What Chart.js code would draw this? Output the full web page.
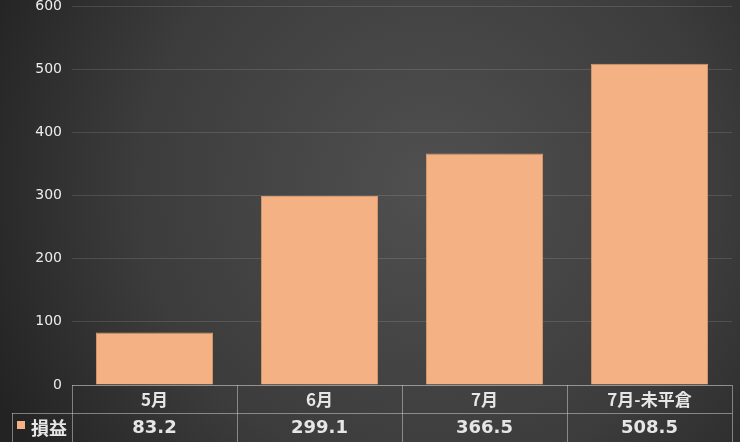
<!DOCTYPE html>
<html><head><meta charset="utf-8">
<script src="https://cdn.jsdelivr.net/npm/chart.js@4/dist/chart.umd.min.js"></script>
<style>html,body{margin:0;padding:0;background:#2a2a2a;}#wrap{width:740px;height:442px;position:relative;}</style>
</head><body><div id="wrap"><canvas id="c"></canvas></div>
<script>
const categories = ['5月', '6月', '7月', '7月-未平倉'];
const seriesName = '損益';
const values = [83.2, 299.1, 366.5, 508.5];
const valueLabels = ['83.2', '299.1', '366.5', '508.5'];
const yTicks = [0, 100, 200, 300, 400, 500, 600];

const barColor = '#F4B183';
const FONT = '"Noto Sans CJK JP", "Noto Sans", sans-serif';
const NUMFONT = '"DejaVu Sans", "Noto Sans CJK JP", sans-serif';

const bgPlugin = {
  id: 'bg',
  beforeDraw(chart) {
    const ctx = chart.ctx, w = chart.width, h = chart.height;
    ctx.save();
    const g = ctx.createRadialGradient(w * 0.58, h * 0.42, 10, w * 0.58, h * 0.42, w * 0.65);
    g.addColorStop(0, '#4f4f4f');
    g.addColorStop(0.6, '#3c3c3c');
    g.addColorStop(1, '#232323');
    ctx.fillStyle = g;
    ctx.fillRect(0, 0, w, h);
    ctx.restore();
  }
};

const tablePlugin = {
  id: 'table',
  afterDraw(chart) {
    const ctx = chart.ctx, xs = chart.scales.x, ca = chart.chartArea;
    const top = ca.bottom, mid = top + 28, bot = chart.height + 2;
    const left = ca.left, right = ca.right, legLeft = 12;
    const n = categories.length;
    const step = (right - left) / n;
    ctx.save();
    ctx.strokeStyle = 'rgba(200,200,200,0.55)';
    ctx.lineWidth = 1;
    ctx.beginPath();
    ctx.moveTo(left, top + 0.5); ctx.lineTo(right, top + 0.5);
    ctx.moveTo(legLeft, mid + 0.5); ctx.lineTo(right, mid + 0.5);
    ctx.moveTo(legLeft, bot - 0.5); ctx.lineTo(right, bot - 0.5);
    ctx.moveTo(legLeft + 0.5, mid); ctx.lineTo(legLeft + 0.5, bot);
    for (let i = 0; i <= n; i++) {
      const x = Math.round(left + step * i) + 0.5;
      ctx.moveTo(x, top); ctx.lineTo(x, bot);
    }
    ctx.stroke();
    ctx.textAlign = 'center';
    ctx.textBaseline = 'middle';
    ctx.fillStyle = '#e6e6e6';
    ctx.font = 'bold 17px ' + FONT;
    categories.forEach((c, i) => {
      ctx.fillText(c, xs.getPixelForValue(i), (top + mid) / 2 + 1);
    });
    ctx.font = 'bold 18px ' + NUMFONT;
    valueLabels.forEach((v, i) => {
      ctx.fillText(v, xs.getPixelForValue(i), (mid + bot) / 2);
    });
    ctx.fillStyle = barColor;
    ctx.fillRect(17, mid + 8, 8, 8);
    ctx.fillStyle = '#e6e6e6';
    ctx.textAlign = 'left';
    ctx.font = 'bold 18px ' + FONT;
    ctx.fillText(seriesName, 31, (mid + bot) / 2);
    ctx.restore();
  }
};

new Chart(document.getElementById('c'), {
  type: 'bar',
  data: {
    labels: categories,
    datasets: [{
      label: seriesName,
      data: values,
      backgroundColor: barColor,
      borderColor: '#d99a6c',
      borderWidth: 1,
      categoryPercentage: 0.71,
      barPercentage: 1.0
    }]
  },
  options: {
    responsive: true,
    maintainAspectRatio: false,
    animation: false,
    devicePixelRatio: 1,
    layout: { padding: { top: 0, right: 8, bottom: 57, left: 0 } },
    plugins: { legend: { display: false }, tooltip: { enabled: false } },
    scales: {
      x: { display: false },
      y: {
        min: 0, max: 600,
        afterFit(s) { s.width = 72; s.paddingTop = 6; s.paddingBottom = 0; },
        afterBuildTicks(s) { s.ticks = yTicks.map(v => ({ value: v })); },
        border: { display: false },
        grid: { color: 'rgba(255,255,255,0.12)', drawTicks: false, lineWidth: 1 },
        ticks: { color: '#ececec', padding: 10, font: { family: NUMFONT, size: 14 } }
      }
    }
  },
  plugins: [bgPlugin, tablePlugin]
});
</script></body></html>
